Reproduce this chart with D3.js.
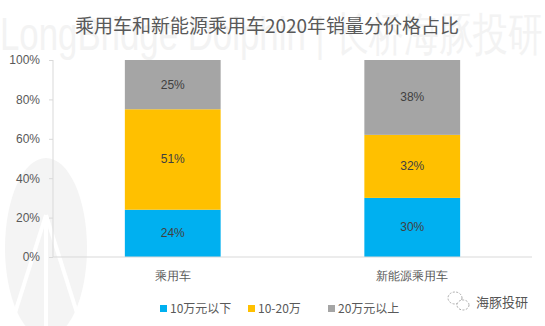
<!DOCTYPE html>
<html><head><meta charset="utf-8">
<script src="https://cdn.jsdelivr.net/npm/d3@7"></script>
<style>body{margin:0;background:#fff;}svg{display:block;font-family:"Noto Sans CJK SC","Microsoft YaHei",sans-serif;}</style>
</head><body>
<svg id="c" width="545" height="326"></svg>
<script>
const categories = ["乘用车", "新能源乘用车"];
const seriesNames = ["10万元以下", "10-20万", "20万元以上"];
const low = [24, 30];
const mid = [51, 32];
const high = [25, 38];
const yTicks = [0, 20, 40, 60, 80, 100];
const colors = ["#00B0F0", "#FFC000", "#A5A5A5"];
const title = "乘用车和新能源乘用车2020年销量分价格占比";
const watermark = "LongBridge Dolphin | 长桥海豚投研";
const brand = "海豚投研";

const svg = d3.select("#c");
// watermark
const wm = svg.append("g");
wm.append("ellipse").attr("cx", 46).attr("cy", 248).attr("rx", 41).attr("ry", 90).attr("fill", "#f4f4f4");
[-1, 0, 1].forEach(i => {
  wm.append("line").attr("x1", 46).attr("y1", 215).attr("x2", 46 + i * 38).attr("y2", 335)
    .attr("stroke", "#fff").attr("stroke-width", 4);
});
wm.append("text").attr("x", 0).attr("y", 50).attr("font-size", 46)
  .attr("font-family", "Liberation Sans, Arial, sans-serif")
  .attr("fill", "#f3f3f3").attr("textLength", 543).attr("lengthAdjust", "spacingAndGlyphs")
  .text(watermark);

const margin = {left: 53, right: 13, top: 60, bottom: 69};
const W = 545, H = 326;
const x = d3.scaleBand().domain(categories).range([margin.left, W - margin.right]).paddingInner(0.6).paddingOuter(0.3);
const y = d3.scaleLinear().domain([0, 100]).range([H - margin.bottom, margin.top]);

const data = categories.map((c, i) => ({cat: c, s0: low[i], s1: mid[i], s2: high[i]}));
const stack = d3.stack().keys(["s0", "s1", "s2"])(data);

svg.append("text").attr("x", 267).attr("y", 33).attr("text-anchor", "middle")
  .attr("font-size", 19).attr("fill", "#595959").text(title);

// y axis
const ya = svg.append("g").attr("transform", `translate(${margin.left},0)`)
  .call(d3.axisLeft(y).tickValues(yTicks).tickFormat(d => d + "%").tickSize(4).tickPadding(9));
ya.select(".domain").attr("stroke", "#d9d9d9").attr("d", `M0,${y(0)}V${y(100)}`);
ya.selectAll(".tick line").attr("stroke", "#d9d9d9");
ya.selectAll(".tick text").attr("font-size", 12).attr("fill", "#595959").attr("font-family", "Liberation Sans, Arial, sans-serif");

// bars
stack.forEach((layer, k) => {
  svg.append("g").selectAll("rect").data(layer).join("rect")
    .attr("x", d => x(d.data.cat)).attr("width", x.bandwidth())
    .attr("y", d => y(d[1])).attr("height", d => y(d[0]) - y(d[1]))
    .attr("fill", colors[k]);
  svg.append("g").selectAll("text").data(layer).join("text")
    .attr("x", d => x(d.data.cat) + x.bandwidth() / 2)
    .attr("y", d => (y(d[0]) + y(d[1])) / 2 + 4)
    .attr("text-anchor", "middle").attr("font-size", 12).attr("fill", "#404040")
    .attr("font-family", "Liberation Sans, Arial, sans-serif")
    .text(d => (d[1] - d[0]) + "%");
});

// x axis
const xa = svg.append("g").attr("transform", `translate(0,${y(0)})`)
  .call(d3.axisBottom(x).tickSize(0).tickPadding(14));
xa.select(".domain").attr("stroke", "#d9d9d9").attr("d", `M${margin.left},0H${W - margin.right}`);
xa.selectAll(".tick text").attr("font-size", 12).attr("fill", "#595959");

// legend
const lg = svg.append("g");
const lx = [160, 248, 328];
seriesNames.forEach((n, i) => {
  lg.append("rect").attr("x", lx[i]).attr("y", 305).attr("width", 7).attr("height", 7).attr("fill", colors[i]);
  lg.append("text").attr("x", lx[i] + 10).attr("y", 313).attr("font-size", 12).attr("fill", "#595959").text(n);
});

// wechat brand
const wb = svg.append("g");
wb.append("ellipse").attr("cx", 455).attr("cy", 298).attr("rx", 7).attr("ry", 6).attr("fill", "none").attr("stroke", "#aaa").attr("stroke-dasharray", "2,1.5");
wb.append("ellipse").attr("cx", 463).attr("cy", 305).attr("rx", 6).attr("ry", 5).attr("fill", "#fff").attr("stroke", "#aaa").attr("stroke-dasharray", "2,1.5");
wb.append("text").attr("x", 476).attr("y", 307).attr("font-size", 13).attr("fill", "#555").text(brand);
</script>
</body></html>
